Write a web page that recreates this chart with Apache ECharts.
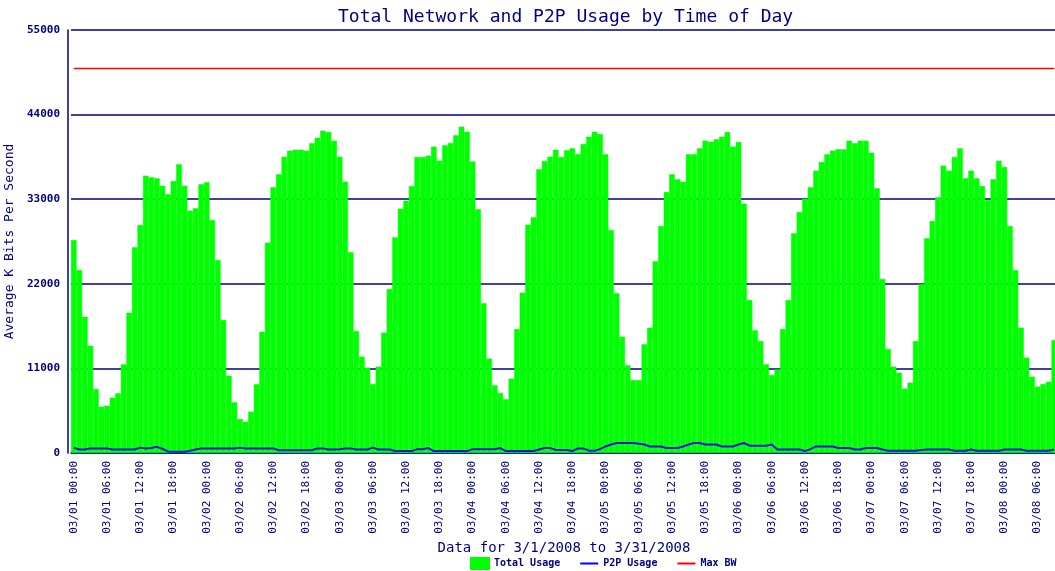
<!DOCTYPE html>
<html>
<head>
<meta charset="utf-8" />
<title>Total Network and P2P Usage by Time of Day</title>
<style>
  html, body { margin: 0; padding: 0; background: #fff; }
  #chart { width: 1055px; height: 571px; }
</style>
</head>
<body>
<div id="chart"></div>
<script src="https://cdn.jsdelivr.net/npm/echarts@6/dist/echarts.min.js"></script>
<script>
// hourly samples, 03/01 00:00 onward
const days = ['03/01', '03/02', '03/03', '03/04', '03/05', '03/06', '03/07', '03/08'];

// total usage, kbit/s, one array per day
const total01 = [27700, 23800, 17700, 13950, 8320, 6020, 6150, 7190, 7760, 11530, 18240, 26740, 29640, 36060, 35840, 35710, 34760, 33630, 35370, 37530, 34760, 31500, 31810, 34930];
const total02 = [35190, 30300, 25090, 17290, 10050, 6590, 4420, 4070, 5370, 8930, 15770, 27340, 34540, 36230, 38520, 39300, 39440, 39440, 39300, 40270, 40990, 41900, 41740, 40610];
const total03 = [38530, 35280, 26090, 15860, 12530, 11100, 8970, 11220, 15640, 21320, 28040, 31760, 32800, 34720, 38490, 38490, 38660, 39830, 38010, 40000, 40310, 41310, 42430, 41780];
const total04 = [37890, 31680, 19460, 12270, 8800, 7800, 6980, 9660, 16120, 20840, 29690, 30640, 36890, 37970, 38530, 39440, 38490, 39350, 39610, 38880, 40180, 41120, 41780, 41480];
const total05 = [38830, 28990, 20760, 15120, 11400, 9490, 9490, 14130, 16290, 24920, 29510, 33930, 36230, 35580, 35280, 38830, 38830, 39610, 40610, 40480, 40790, 41120, 41730, 39830];
const total06 = [40440, 32420, 19890, 15950, 14560, 11530, 10140, 10880, 16120, 19890, 28560, 31330, 33070, 34540, 36710, 37840, 38830, 39310, 39480, 39480, 40610, 40270, 40610, 40610];
const total07 = [39050, 34410, 22620, 13520, 11220, 10440, 8360, 9140, 14560, 21970, 27910, 30160, 33240, 37360, 36710, 38490, 39610, 35710, 36710, 35710, 34720, 32900, 35580, 38010];
const total08 = [37190, 29510, 23790, 16300, 12400, 9920, 8620, 8970, 9270, 14690];

// p2p usage, kbit/s
const p2p01 = [680, 450, 450, 600, 600, 600, 600, 450, 450, 450, 450, 450, 700, 600, 650, 800, 550, 200, 150, 150, 150, 300, 450, 600];
const p2p02 = [600, 600, 600, 600, 600, 600, 700, 600, 600, 600, 600, 600, 600, 350, 350, 350, 350, 350, 350, 350, 600, 600, 450, 450];
const p2p03 = [500, 600, 600, 450, 450, 450, 700, 450, 450, 450, 250, 250, 250, 250, 500, 500, 650, 250, 250, 250, 250, 250, 250, 250];
const p2p04 = [500, 500, 500, 500, 500, 650, 250, 250, 250, 250, 250, 250, 450, 650, 650, 400, 400, 400, 250, 600, 600, 300, 300, 500];
const p2p05 = [850, 1100, 1300, 1300, 1300, 1300, 1200, 1100, 850, 850, 850, 650, 650, 650, 850, 1100, 1300, 1300, 1100, 1100, 1100, 850, 850, 850];
const p2p06 = [1100, 1300, 950, 950, 950, 950, 1100, 450, 450, 450, 450, 450, 250, 500, 850, 850, 850, 850, 650, 650, 650, 450, 450, 650];
const p2p07 = [650, 650, 450, 300, 300, 300, 300, 300, 300, 400, 450, 450, 450, 450, 450, 300, 300, 300, 450, 300, 300, 300, 300, 300];
const p2p08 = [450, 450, 450, 450, 300, 300, 300, 300, 300, 450];

const maxBW = 50000;
const yTicks = [0, 11000, 22000, 33000, 44000, 55000];

const totalUsage = [].concat(total01, total02, total03, total04, total05, total06, total07, total08);
const p2pUsage = [].concat(p2p01, p2p02, p2p03, p2p04, p2p05, p2p06, p2p07, p2p08);

const hours = [];
for (let i = 0; i < totalUsage.length; i++) {
  const d = days[Math.floor(i / 24)];
  const h = String(i % 24).padStart(2, '0');
  hours.push(d + ' ' + h + ':00');
}

const navy = '#000080';
const mono = 'DejaVu Sans Mono';

const chart = echarts.init(document.getElementById('chart'));
chart.setOption({
  animation: false,
  backgroundColor: '#fff',
  title: {
    text: 'Total Network and P2P Usage by Time of Day',
    left: 333,
    top: 3,
    textStyle: { fontFamily: mono, fontSize: 18, fontWeight: 'normal', color: navy }
  },
  legend: {
    left: 465,
    top: 552,
    itemGap: 20,
    itemWidth: 18,
    itemHeight: 11,
    textStyle: { fontFamily: mono, fontSize: 10, fontWeight: 'bold', color: navy },
    data: [
      { name: 'Total Usage', icon: 'rect' },
      { name: 'P2P Usage', icon: 'path://M0,0 L18,0 L18,2 L0,2 Z' },
      { name: 'Max BW', icon: 'path://M0,0 L18,0 L18,2 L0,2 Z' }
    ]
  },
  grid: { left: 71, right: -2, top: 30, bottom: 118, outerBoundsMode: 'none', containLabel: false },
  xAxis: {
    type: 'category',
    data: hours,
    name: 'Data for 3/1/2008 to 3/31/2008',
    nameLocation: 'middle',
    nameGap: 81,
    nameTextStyle: { fontFamily: mono, fontSize: 14, color: navy },
    axisLine: { lineStyle: { color: navy, width: 1.5 } },
    axisTick: { show: false },
    axisLabel: {
      interval: 5,
      rotate: 90,
      margin: 8,
      fontFamily: mono,
      fontSize: 11,
      color: navy
    }
  },
  yAxis: {
    type: 'value',
    min: yTicks[0],
    max: yTicks[yTicks.length - 1],
    interval: yTicks[1] - yTicks[0],
    offset: 3,
    name: 'Average K Bits Per Second',
    nameLocation: 'middle',
    nameGap: 44,
    nameTextStyle: { fontFamily: mono, fontSize: 13, color: navy },
    axisLine: { show: true, lineStyle: { color: navy, width: 1.5 } },
    axisTick: { show: false },
    axisLabel: {
      fontFamily: mono, fontSize: 11, fontWeight: 'bold', color: navy, margin: 8,
      formatter: v => String(v)
    },
    splitLine: { lineStyle: { color: navy, width: 1.5 } }
  },
  series: [
    {
      name: 'Total Usage',
      type: 'bar',
      data: totalUsage,
      barWidth: '100%',
      barCategoryGap: '0%',
      itemStyle: { color: '#00ff00', borderColor: '#00ff00', borderWidth: 0.5 }
    },
    {
      name: 'P2P Usage',
      type: 'line',
      data: p2pUsage,
      showSymbol: false,
      itemStyle: { color: '#0000ff' },
      lineStyle: { color: '#1010dd', width: 2 }
    },
    {
      name: 'Max BW',
      type: 'line',
      data: hours.map(() => maxBW),
      showSymbol: false,
      itemStyle: { color: '#ff0000' },
      lineStyle: { color: '#ff0000', width: 1.5 }
    }
  ]
});
</script>
</body>
</html>
